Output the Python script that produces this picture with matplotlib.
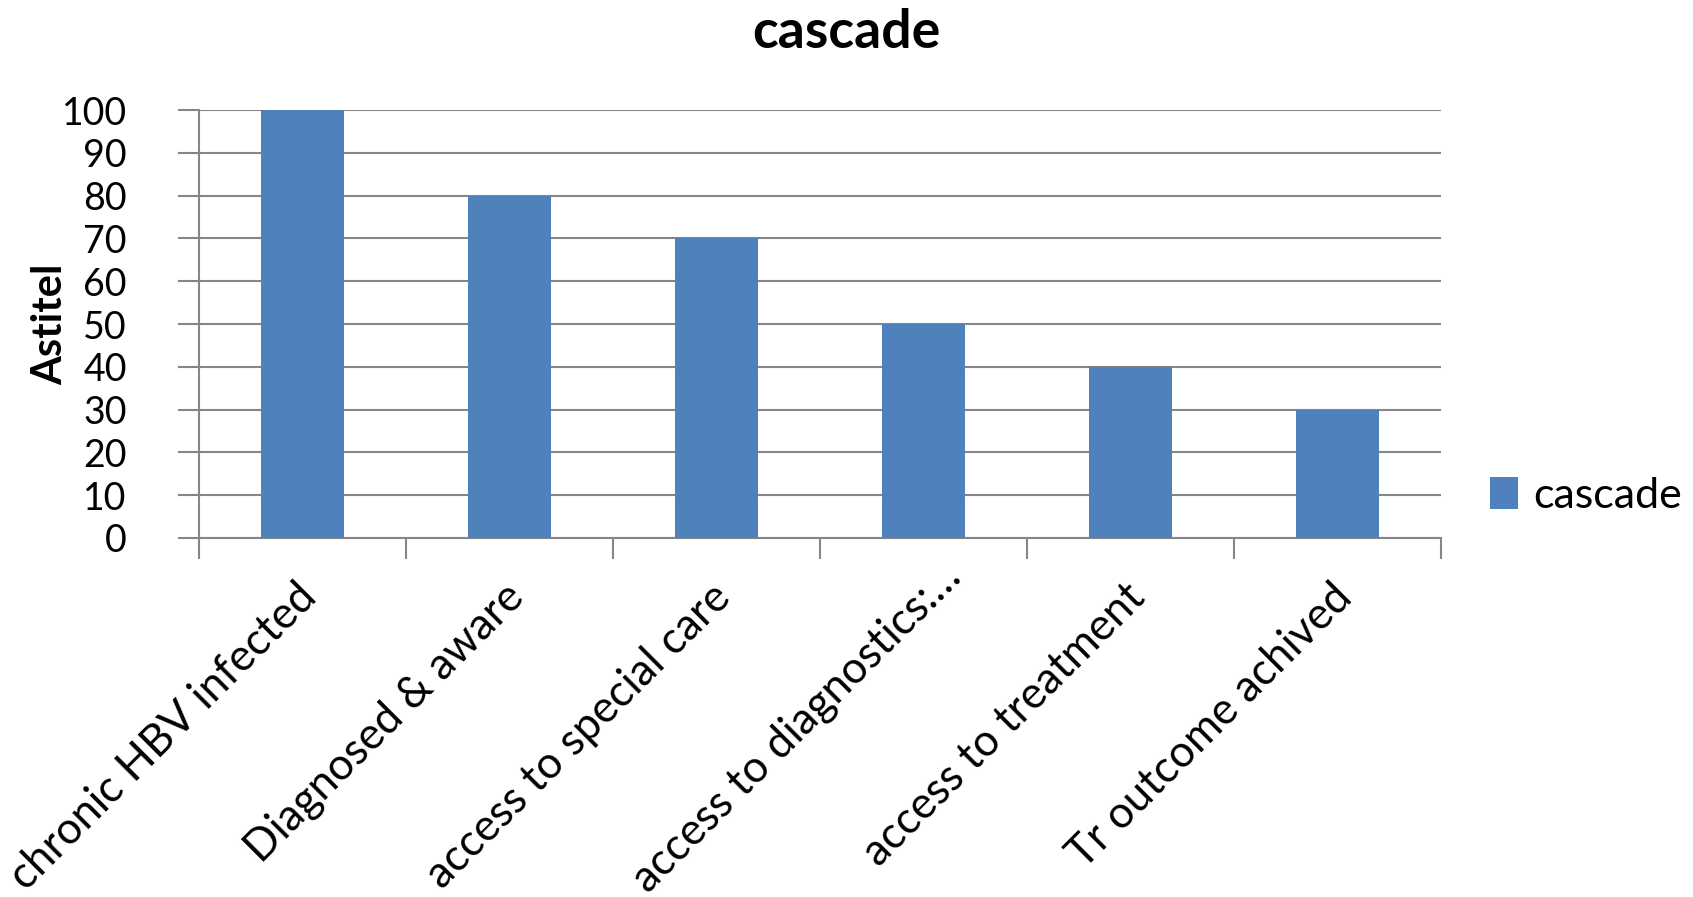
import numpy as np
import matplotlib
matplotlib.use("Agg")
import matplotlib.pyplot as plt
from matplotlib.transforms import ScaledTranslation
from matplotlib.patches import Patch

# =========================
# Data
# =========================
categories = [
    "chronic HBV infected",
    "Diagnosed & aware",
    "access to special care",
    "access to diagnostics:…",
    "access to treatment",
    "Tr outcome achived",
]
values = [100, 80, 70, 50, 40, 30]
y_ticks = [0, 10, 20, 30, 40, 50, 60, 70, 80, 90, 100]

series_name = "cascade"
title = "cascade"
y_label = "Astitel"

BAR_COLOR = "#4F81BD"
GRID_COLOR = "#868686"

plt.rcParams["font.family"] = ["Lato", "DejaVu Sans"]

fig = plt.figure(figsize=(16.93, 8.97), dpi=100)
# axes box in pixels: x 199..1441, y 110..538
W, H = 1693, 897
ax = fig.add_axes([199 / W, 1 - 538 / H, (1441 - 199) / W, (538 - 110) / H])

x = np.arange(len(categories))
ax.bar(x, values, width=0.4, color=BAR_COLOR, zorder=3)

ax.set_xlim(-0.5, len(categories) - 0.5)
ax.set_ylim(0, 100)

# y axis + gridlines
ax.set_yticks(y_ticks)
ax.set_yticklabels([str(v) for v in y_ticks], fontsize=27)
ax.yaxis.grid(True, color=GRID_COLOR, linewidth=1.5, zorder=0)
ax.tick_params(axis="y", length=15, width=1.5, color=GRID_COLOR, pad=37, direction="out")

# x axis: tick marks at category boundaries, labels at centres
ax.set_xticks(x)
ax.set_xticklabels(categories, fontsize=31.5, rotation=45, ha="right",
                   va="top", rotation_mode="anchor")
ax.set_xticks(np.arange(-0.5, len(categories)), minor=True)
ax.tick_params(axis="x", which="major", length=0, pad=27.5)
ax.tick_params(axis="x", which="minor", length=15, width=1.5, color=GRID_COLOR, direction="out")
for i, lab in enumerate(ax.get_xticklabels()):
    dx, dy = -7, 0
    if categories[i].endswith("…"):
        # truncated label sits a bit further along its own direction
        dx, dy = 16, 20
    off = ScaledTranslation(dx / 100, dy / 100, fig.dpi_scale_trans)
    lab.set_transform(lab.get_transform() + off)

for side in ["top", "right"]:
    ax.spines[side].set_visible(False)
for side in ["left", "bottom"]:
    ax.spines[side].set_color(GRID_COLOR)
    ax.spines[side].set_linewidth(1.5)

ax.set_ylabel(y_label, fontsize=30, fontweight="bold")
ax.yaxis.set_label_coords((69 - 199) / (1441 - 199), 0.5)

fig.text(0.5, 1 - 48 / H, title, ha="center", va="baseline",
         fontsize=38.5, fontweight="bold")

handles = [Patch(facecolor=BAR_COLOR, edgecolor="none", label=series_name)]
fig.legend(handles=handles, loc="center left", bbox_to_anchor=(1473 / W, 1 - 496 / H),
           frameon=False, fontsize=31, handlelength=0.65, handleheight=0.75,
           handletextpad=0.35, borderaxespad=0)

fig.savefig("out.png", dpi=100)
